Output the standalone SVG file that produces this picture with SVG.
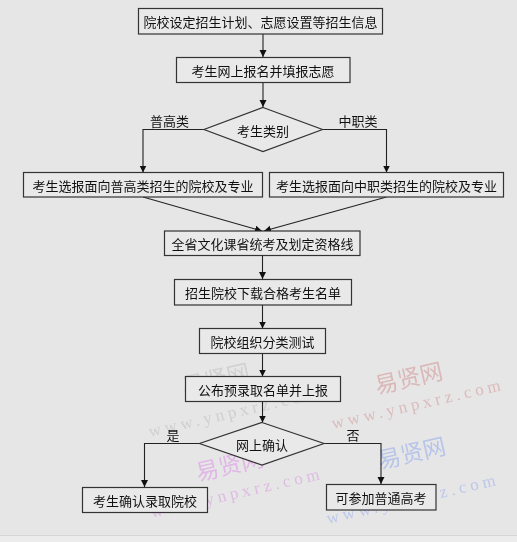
<svg xmlns="http://www.w3.org/2000/svg" width="517" height="542" viewBox="0 0 517 542">
<defs>
<marker id="ah" markerWidth="8" markerHeight="8" refX="7" refY="3.5" orient="auto" markerUnits="userSpaceOnUse">
<path d="M0,0 L7,3.5 L0,7 Z" fill="#111"/>
</marker>
<style>
.box{fill:#e9e9e9;stroke:#333;stroke-width:1.2}
.t{font-family:"Noto Sans CJK SC","Noto Sans",sans-serif;font-size:13px;fill:#111;text-anchor:middle;dominant-baseline:central}
.c{fill:none;stroke:#222;stroke-width:1.1}
.wc{font-family:"Noto Sans CJK SC",serif;font-size:23px}
.we{font-family:"Liberation Serif",serif;font-size:17px;letter-spacing:4px}
</style>
</defs>
<rect x="0" y="0" width="517" height="542" fill="#e6e6e6"/>
<line x1="0" y1="535.5" x2="517" y2="535.5" stroke="#d6d6d6"/>
<rect x="0" y="536" width="517" height="6" fill="#ececec"/>

<g id="watermarks" opacity="0.5">
<text class="wc" x="184" y="395" fill="#bdbdbd" transform="rotate(-13 184 395)">易贤网</text>
<text class="we" x="150" y="437" fill="#b8b8b8" transform="rotate(-13 150 437)">www.ynpxrz.com</text>
<text class="wc" x="377" y="394" fill="#d08a8a" transform="rotate(-13 377 394)">易贤网</text>
<text class="we" x="333" y="429" fill="#d09090" transform="rotate(-13 333 429)">www.ynpxrz.com</text>
<text class="wc" x="198" y="481" fill="#dd88e8" transform="rotate(-13 198 481)">易贤网</text>
<text class="we" x="152" y="518" fill="#d890e0" transform="rotate(-13 152 518)">www.ynpxrz.com</text>
<text class="wc" x="380" y="469" fill="#8aa4f0" transform="rotate(-13 380 469)">易贤网</text>
<text class="we" x="328" y="524" fill="#94a8f0" transform="rotate(-13 328 524)">www.ynpxrz.com</text>
</g>

<g id="connectors">
<line class="c" x1="263" y1="34" x2="263" y2="57" marker-end="url(#ah)"/>
<line class="c" x1="263" y1="82" x2="263" y2="107" marker-end="url(#ah)"/>
<polyline class="c" points="204,129.5 143,129.5 143,172.5" marker-end="url(#ah)"/>
<polyline class="c" points="322.5,129.5 386.5,129.5 386.5,172.5" marker-end="url(#ah)"/>
<line class="c" x1="143" y1="197" x2="262" y2="231" marker-end="url(#ah)"/>
<line class="c" x1="386.5" y1="197" x2="264" y2="231" marker-end="url(#ah)"/>
<line class="c" x1="262.5" y1="255.5" x2="262.5" y2="279" marker-end="url(#ah)"/>
<line class="c" x1="262.5" y1="305" x2="262.5" y2="328.5" marker-end="url(#ah)"/>
<line class="c" x1="262.5" y1="353.5" x2="262.5" y2="376.5" marker-end="url(#ah)"/>
<line class="c" x1="262.5" y1="401.5" x2="262.5" y2="422.5" marker-end="url(#ah)"/>
<polyline class="c" points="199.5,443.5 144.5,443.5 144.5,487" marker-end="url(#ah)"/>
<polyline class="c" points="324,443.5 381,443.5 381,484" marker-end="url(#ah)"/>
<text class="t" x="169.5" y="120.5">普高类</text>
<text class="t" x="358" y="120.5">中职类</text>
<text class="t" x="173" y="434">是</text>
<text class="t" x="353" y="434">否</text>
</g>

<g id="n1"><rect class="box" x="138.5" y="8.5" width="244" height="25.5"/><text class="t" x="260.5" y="21.5">院校设定招生计划、志愿设置等招生信息</text></g>
<g id="n2"><rect class="box" x="176.5" y="57.5" width="173.5" height="25"/><text class="t" x="263" y="70">考生网上报名并填报志愿</text></g>
<g id="n3"><polygon class="box" points="263,107.5 322.5,129.5 263,151.5 204,129.5"/><text class="t" x="263" y="130">考生类别</text></g>
<g id="n4"><rect class="box" x="23.5" y="172.5" width="239" height="24.5"/><text class="t" x="143" y="185">考生选报面向普高类招生的院校及专业</text></g>
<g id="n5"><rect class="box" x="269.5" y="172.5" width="234" height="24.5"/><text class="t" x="386.5" y="185">考生选报面向中职类招生的院校及专业</text></g>
<g id="n6"><rect class="box" x="164.5" y="231" width="195.5" height="24.5"/><text class="t" x="262.5" y="243.5">全省文化课省统考及划定资格线</text></g>
<g id="n7"><rect class="box" x="174.5" y="279.5" width="177" height="25.5"/><text class="t" x="263" y="292.5">招生院校下载合格考生名单</text></g>
<g id="n8"><rect class="box" x="199.5" y="328.5" width="126" height="25"/><text class="t" x="262.5" y="341">院校组织分类测试</text></g>
<g id="n9"><rect class="box" x="185.5" y="376.5" width="155" height="25"/><text class="t" x="263" y="389">公布预录取名单并上报</text></g>
<g id="n10"><polygon class="box" points="262,422.5 324,443.5 262,465 199.5,443.5"/><text class="t" x="262" y="444">网上确认</text></g>
<g id="n11"><rect class="box" x="82.5" y="487.5" width="125" height="25"/><text class="t" x="145" y="500">考生确认录取院校</text></g>
<g id="n12"><rect class="box" x="326.5" y="484.5" width="109.5" height="25.5"/><text class="t" x="381" y="497.5">可参加普通高考</text></g>
</svg>
